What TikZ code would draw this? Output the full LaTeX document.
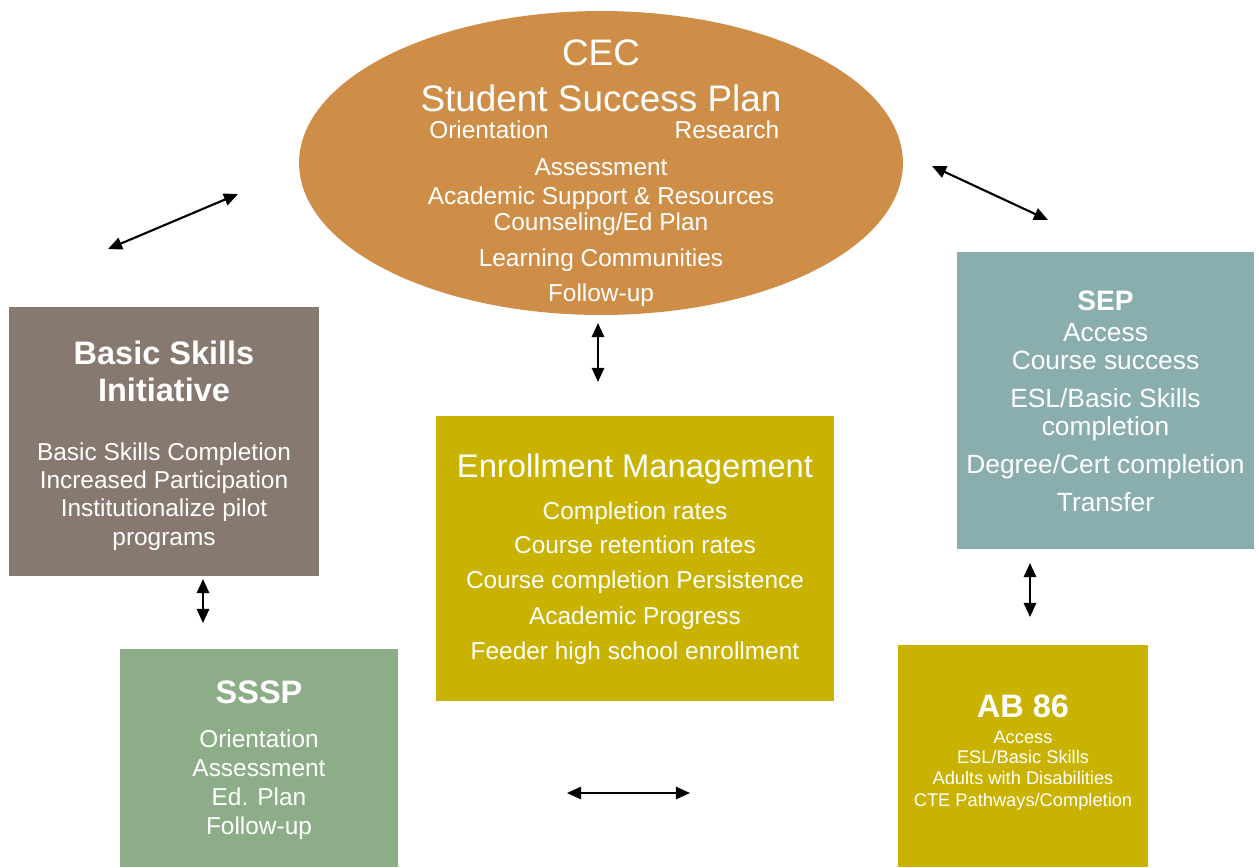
\documentclass[tikz,border=0pt]{standalone}
\usepackage{fontspec}
\setmainfont{Liberation Sans}
\usepackage{xcolor}
\usepackage{tikz}
\usetikzlibrary{positioning, arrows.meta, shapes.geometric}

\definecolor{cecorange}{HTML}{CF8E48}
\definecolor{bsibrown}{HTML}{877970}
\definecolor{septeal}{HTML}{8AADAD}
\definecolor{emgold}{HTML}{C9B300}
\definecolor{ssspgreen}{HTML}{8DAD89}

\begin{document}
\begin{tikzpicture}[x=0.02cm, y=-0.02cm,
    box/.style={rectangle, inner sep=0pt},
    ln/.style={text=white, inner sep=0pt, text depth=0pt},
    big/.style={font=\fontsize{21}{25}\selectfont, text height=15pt},
    head/.style={font=\bfseries\fontsize{18.5}{22}\selectfont, text height=13.3pt},
    body/.style={font=\fontsize{13.9}{17}\selectfont, text height=10pt},
    link/.style={{Triangle[length=8pt,width=7pt]}-{Triangle[length=8pt,width=7pt]}, line width=1.2pt}]
    \useasboundingbox (0,0) rectangle (1259,867);

    % CEC Student Success Plan
    \node[ellipse, fill=cecorange, minimum width=12.08cm, minimum height=6.08cm, inner sep=0pt] (cec) at (601,163) {};
    \node[ln, big] (cectitle) at (601,52) {CEC};
    \node[ln, big] (ssp) at (601,98) {Student Success Plan};
    \node[ln, body] (orient) at (489,130) {Orientation};
    \node[ln, body] (research) at (727,130) {Research};
    \foreach \txt/\y [count=\i] in {Assessment/167, {Academic Support \& Resources}/196,
        {Counseling/Ed Plan}/222, {Learning Communities}/258, Follow-up/293}
        \node[ln, body] (cec\i) at (601,\y) {\txt};

    % Basic Skills Initiative
    \node[box, fill=bsibrown, minimum width=6.2cm, minimum height=5.38cm] (bsi) at (164,441.5) {};
    \node[ln, head] (bsi1) at (164,353) {Basic Skills};
    \node[ln, head] (bsi2) at (164,390) {Initiative};
    \foreach \txt/\y [count=\i from 3] in {{Basic Skills Completion}/452, {Increased Participation}/480,
        {Institutionalize pilot}/508, programs/537}
        \node[ln, body] (bsi\i) at (164,\y) {\txt};

    % SEP
    \node[box, fill=septeal, minimum width=5.94cm, minimum height=5.94cm] (sep) at (1105.5,400.5) {};
    \node[ln, font=\bfseries\fontsize{16}{19}\selectfont, text height=11.5pt] (sep0) at (1105.5,300) {SEP};
    \foreach \txt/\y [count=\i] in {Access/332, {Course success}/360, {ESL/Basic Skills}/398,
        completion/426, {Degree/Cert completion}/464, Transfer/502}
        \node[ln, font=\fontsize{15}{18}\selectfont, text height=10.7pt] (sep\i) at (1105.5,\y) {\txt};

    % Enrollment Management
    \node[box, fill=emgold, minimum width=7.96cm, minimum height=5.7cm] (enroll) at (635,558.5) {};
    \node[ln, font=\fontsize{18.6}{22}\selectfont, text height=13.3pt] (enroll0) at (635,466) {Enrollment Management};
    \foreach \txt/\y [count=\i] in {{Completion rates}/511, {Course retention rates}/545,
        {Course completion Persistence}/580, {Academic Progress}/616, {Feeder high school enrollment}/651}
        \node[ln, body] (enroll\i) at (635,\y) {\txt};

    % SSSP
    \node[box, fill=ssspgreen, minimum width=5.56cm, minimum height=4.36cm] (sssp) at (259,758) {};
    \node[ln, head] (sssp0) at (259,692) {SSSP};
    \foreach \txt/\y [count=\i] in {Orientation/739, Assessment/768, {Ed. Plan}/797, Follow-up/826}
        \node[ln, body] (sssp\i) at (259,\y) {\txt};

    % AB 86
    \node[box, fill=emgold, minimum width=5.0cm, minimum height=4.44cm] (ab86) at (1023,756) {};
    \node[ln, head] (ab0) at (1023,706) {AB 86};
    \foreach \txt/\y [count=\i] in {Access/737, {ESL/Basic Skills}/757,
        {Adults with Disabilities}/778, {CTE Pathways/Completion}/800}
        \node[ln, font=\fontsize{10.4}{12}\selectfont, text height=7.4pt] (ab\i) at (1023,\y) {\txt};

    % Arrows
    \coordinate (bsiA) at (108,249);
    \coordinate (cecA) at (238,194);
    \coordinate (cecB) at (932,166);
    \coordinate (sepB) at (1048,220);
    \coordinate (cecC) at (598,323);
    \coordinate (enrollC) at (598,382);
    \coordinate (bsiD) at (203,579);
    \coordinate (ssspD) at (203,623);
    \coordinate (sepE) at (1030,563);
    \coordinate (abE) at (1030,617);
    \coordinate (ssspF) at (567,793);
    \coordinate (abF) at (690,793);
    \draw[link] (bsiA) -- (cecA);
    \draw[link] (cecB) -- (sepB);
    \draw[link] (cecC) -- (enrollC);
    \draw[link] (bsiD) -- (ssspD);
    \draw[link] (sepE) -- (abE);
    \draw[link] (ssspF) -- (abF);

\end{tikzpicture}
\end{document}
